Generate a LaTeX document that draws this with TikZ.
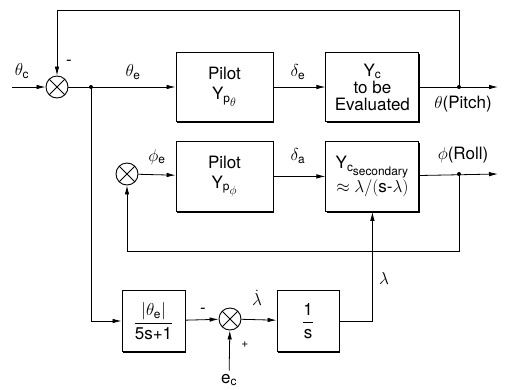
\documentclass[tikz,border=0pt]{standalone}
\usepackage{amsmath}
\usepackage{fontspec}
\setmainfont{TeX Gyre Heros}
\usetikzlibrary{positioning,arrows.meta,shadows}

\begin{document}
\begin{tikzpicture}[
    x=1pt, y=-1pt,
    font=\fontsize{17}{20}\selectfont,
    box/.style={rectangle, draw, fill=white, line width=0.9pt, align=center, inner sep=1pt,
        drop shadow={shadow xshift=1.3pt, shadow yshift=-1.3pt, fill=black, opacity=1}},
    summer/.style={circle, draw, line width=0.9pt, minimum size=22pt, inner sep=0pt,
        path picture={\draw[line width=0.9pt] (path picture bounding box.north west) -- (path picture bounding box.south east)
            (path picture bounding box.north east) -- (path picture bounding box.south west);}},
    arrow/.style={-{Latex[length=9pt,width=4.5pt]}, line width=0.8pt},
    dot/.style={circle, fill, inner sep=0pt, minimum size=4pt}
]
\useasboundingbox (0,0) rectangle (514,389);

% pitch loop
\node[summer] (sumA) at (57,87) {};
\node[box, minimum width=97pt, minimum height=69pt] (pilotA) at (224.5,87) {Pilot\\Y$_{\text{p}_{\scriptstyle\theta}}$};
\node[box, minimum width=93pt, minimum height=69pt, right=52pt of pilotA] (ycA) {Y$_{\text{c}}$\\[-3pt]to be\\[-3pt]Evaluated};
\coordinate (inA) at (12,87);
\coordinate (outA) at (498,87);
\coordinate (tapA) at (459,87);
\coordinate (brA) at (91,87);
\coordinate (topY) at (0,10);

% roll loop
\node[summer] (sumB) at (127,174) {};
\node[box, minimum width=97pt, minimum height=70pt, below=19pt of pilotA] (pilotB) {Pilot\\Y$_{\text{p}_{\scriptstyle\phi}}$};
\node[box, minimum width=93pt, minimum height=70pt, right=52pt of pilotB] (ycB) {\hspace*{-3pt}Y$_{\text{c}_{\scriptstyle\text{secondary}}}$\hspace*{-3pt}\\$\approx\lambda/(\text{s-}\lambda)$};
\coordinate (outB) at (498,174);
\coordinate (tapB) at (459,174);
\coordinate (fbY) at (0,251);

% lambda loop
\node[box, minimum width=63pt, minimum height=61pt] (lagC) at (153.5,321) {$\dfrac{|\theta_{\text{e}}|}{\text{5s+1}}$};
\node[summer] (sumC) at (230,319) {};
\node[box, minimum width=62pt, minimum height=61pt] (intC) at (308,321) {$\dfrac{\text{1}}{\text{s}}$};
\node (ec) at (229,380) {e$_{\text{c}}$};

% labels
\node at (22,71) {$\theta_{\text{c}}$};
\node at (69,63) {-};
\node at (133,72) {$\theta_{\text{e}}$};
\node at (298,72) {$\delta_{\text{e}}$};
\node at (463,104) {$\theta$(Pitch)};
\node at (157,157) {$\phi_{\text{e}}$};
\node at (298,156) {$\delta_{\text{a}}$};
\node at (463,155) {$\phi$(Roll)};
\node at (203,311) {-};
\node[font=\fontsize{12}{14}\selectfont] at (245,345) {+};
\node at (257,298) {$\dot\lambda$};
\node at (384,278) {$\lambda$};

% connectors
\draw[arrow] (inA) -- (sumA);
\draw[arrow] (sumA) -- (pilotA);
\draw[arrow] (pilotA) -- (ycA);
\draw[arrow] (ycA) -- (outA);
\draw[arrow] (tapA) -- (tapA |- topY) -| (sumA.north);
\node[dot] at (tapA) {};
\node[dot] at (brA) {};
\draw[arrow] (brA) |- (lagC.west);

\draw[arrow] (sumB) -- (pilotB);
\draw[arrow] (pilotB) -- (ycB);
\draw[arrow] (ycB) -- (outB);
\draw[arrow] (tapB) -- (tapB |- fbY) -| (sumB.south);
\node[dot] at (tapB) {};

\draw[arrow] (lagC) -- (sumC);
\draw[arrow] (ec) -- (sumC);
\draw[arrow] (sumC) -- (intC);
\draw[arrow] (intC.east) -| (ycB.south);
\end{tikzpicture}
\end{document}
